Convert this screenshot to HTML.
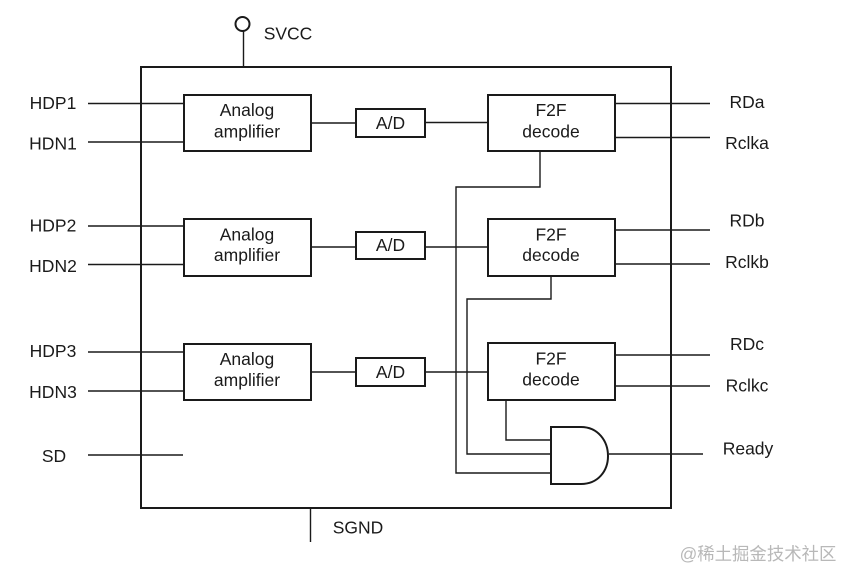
<!DOCTYPE html>
<html><head><meta charset="utf-8"><style>
html,body{margin:0;padding:0;background:#fff;width:842px;height:570px;overflow:hidden}
svg{display:block}
text{font-family:"Liberation Sans",sans-serif;font-size:17.500px;fill:#1a1a1a;text-anchor:middle}
.b{fill:#fff;stroke:#1a1a1a;stroke-width:2}
.l{fill:none;stroke:#1a1a1a;stroke-width:1.4}
</style></head><body>
<svg width="842" height="570" viewBox="0 0 842 570" xmlns="http://www.w3.org/2000/svg">
<rect width="842" height="570" fill="#fff"/>
<rect x="141" y="67" width="530" height="441" fill="none" stroke="#1a1a1a" stroke-width="2"/>
<circle cx="242.500" cy="24" r="7" fill="#fff" stroke="#1a1a1a" stroke-width="2"/>
<path class="l" d="M243.500 31V67M310.500 508V542"/>
<path class="l" d="M88 103.500H184M88 142H184M88 226H184M88 264.500H184M88 352H184M88 391H184M88 455H183"/>
<path class="l" d="M311 123H356M426 122.500H488M311 247H356M426 247H488M311 372H356M426 372H488"/>
<path class="l" d="M615 103.500H710M615 137.500H710M615 230H710M615 264H710M615 355H710M615 386H710M609 454H703"/>
<path class="l" d="M540 152V187H456V473H552M551 276V299H467V454H552M506 400V440H552"/>
<rect class="b" x="184" y="95" width="127" height="56"/>
<rect class="b" x="184" y="219" width="127" height="57"/>
<rect class="b" x="184" y="344" width="127" height="56"/>
<rect class="b" x="356" y="109" width="69" height="28"/>
<rect class="b" x="356" y="232" width="69" height="27"/>
<rect class="b" x="356" y="358" width="69" height="28"/>
<rect class="b" x="488" y="95" width="127" height="56"/>
<rect class="b" x="488" y="219" width="127" height="57"/>
<rect class="b" x="488" y="343" width="127" height="57"/>
<path class="b" d="M551 427H581C598 427 608 441 608 456C608 471 598 484 581 484H551Z"/>
<text x="247" y="116">Analog</text><text x="247" y="137.500">amplifier</text>
<text x="247" y="240.500">Analog</text><text x="247" y="261">amplifier</text>
<text x="247" y="365">Analog</text><text x="247" y="386">amplifier</text>
<text x="390.500" y="129">A/D</text><text x="390.500" y="251">A/D</text><text x="390.500" y="378">A/D</text>
<text x="551" y="116">F2F</text><text x="551" y="137.500">decode</text>
<text x="551" y="240.500">F2F</text><text x="551" y="261">decode</text>
<text x="551" y="364.500">F2F</text><text x="551" y="385.500">decode</text>
<text x="288" y="39.500">SVCC</text>
<text x="53" y="109">HDP1</text><text x="53" y="149.500">HDN1</text>
<text x="53" y="231.500">HDP2</text><text x="53" y="272">HDN2</text>
<text x="53" y="357">HDP3</text><text x="53" y="398">HDN3</text>
<text x="54" y="462">SD</text><text x="358" y="533.500">SGND</text>
<text x="747" y="108">RDa</text><text x="747" y="149">Rclka</text>
<text x="747" y="226.500">RDb</text><text x="747" y="268">Rclkb</text>
<text x="747" y="350">RDc</text><text x="747" y="391.500">Rclkc</text>
<text x="748" y="454.500">Ready</text>
<text x="758" y="560" style="font-family:'Liberation Sans','Noto Sans CJK SC',sans-serif;font-size:17.400px;fill:#b8b8b8">@稀土掘金技术社区</text>
</svg>
</body></html>
